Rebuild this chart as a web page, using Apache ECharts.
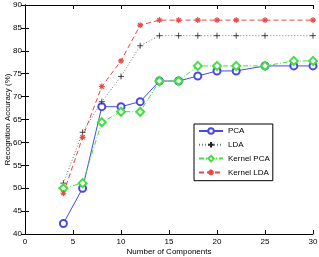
<!DOCTYPE html>
<html>
<head>
<meta charset="utf-8">
<script src="https://cdn.jsdelivr.net/npm/echarts@6/dist/echarts.min.js"></script>
<style>
  html, body { margin: 0; padding: 0; background: #fff; }
  #chart { width: 319px; height: 257px; }
</style>
</head>
<body>
<div id="chart"></div>
<script>
var components = [4, 6, 8, 10, 12, 14, 16, 18, 20, 22, 25, 28, 30];
var pca = [42.3, 50.0, 67.8, 67.8, 68.9, 73.4, 73.4, 74.5, 75.6, 75.6, 76.7, 76.7, 76.7];
var lda = [51.1, 62.2, 68.9, 74.4, 81.1, 83.3, 83.3, 83.3, 83.3, 83.3, 83.3, null, 83.3];
var kernelPca = [50.0, 51.1, 64.4, 66.7, 66.7, 73.4, 73.4, 76.7, 76.7, 76.7, 76.7, 77.8, 77.8];
var kernelLda = [48.9, 61.1, 72.2, 77.8, 85.6, 86.7, 86.7, 86.7, 86.7, 86.7, 86.7, null, 86.7];

function pairs(ys) {
  return components.map(function (x, i) { return [x, ys[i]]; });
}

var plusPath = 'path://M5,0L5,10M0,5L10,5';
var starPath = 'path://M5,0L5,10M0,5L10,5M1.5,1.5L8.5,8.5M1.5,8.5L8.5,1.5';

var dom = document.getElementById('chart');
var myChart = echarts.init(dom, null, { renderer: 'canvas' });

var font = 'Liberation Sans, Arial, sans-serif';
var axisLine = { show: true, lineStyle: { color: '#000', width: 1 } };
var tick = { show: true, inside: true, length: 4, lineStyle: { color: '#000' } };

var option = {
  animation: false,
  backgroundColor: '#fff',
  textStyle: { fontFamily: font },
  grid: { left: 25, right: 6, top: 5, bottom: 23, outerBoundsMode: 'none', containLabel: false },
  legend: {
    orient: 'vertical',
    left: 194,
    top: 124,
    backgroundColor: '#fff',
    borderColor: '#000',
    borderWidth: 1,
    borderRadius: 0,
    padding: [3, 3, 3, 4],
    itemWidth: 24,
    itemHeight: 7,
    itemGap: 4.5,
    textStyle: { fontSize: 8, color: '#000', fontFamily: font },
    data: ['PCA', 'LDA', 'Kernel PCA', 'Kernel LDA']
  },
  xAxis: [
    {
      type: 'value', min: 0, max: 30, interval: 5,
      name: 'Number of Components', nameLocation: 'middle', nameGap: 14,
      nameMoveOverlap: false,
      nameTextStyle: { fontSize: 8, color: '#000' },
      axisLine: axisLine, axisTick: tick,
      axisLabel: { fontSize: 8, color: '#000', margin: 4 },
      splitLine: { show: false }
    },
    {
      type: 'value', min: 0, max: 30, interval: 5, position: 'top',
      axisLine: axisLine, axisTick: tick, axisLabel: { show: false },
      splitLine: { show: false }
    }
  ],
  yAxis: [
    {
      type: 'value', min: 40, max: 90, interval: 5,
      name: 'Recognition Accuracy (%)', nameLocation: 'middle', nameGap: 13,
      nameMoveOverlap: false,
      nameTextStyle: { fontSize: 8, color: '#000' },
      axisLine: axisLine, axisTick: tick,
      axisLabel: { fontSize: 8, color: '#000', margin: 3 },
      splitLine: { show: false }
    },
    {
      type: 'value', min: 40, max: 90, interval: 5, position: 'right',
      axisLine: axisLine, axisTick: tick, axisLabel: { show: false },
      splitLine: { show: false }
    }
  ],
  series: [
    {
      name: 'PCA', type: 'line', data: pairs(pca),
      symbol: 'emptyCircle', symbolSize: 7,
      lineStyle: { color: '#4a4ae0', width: 1 },
      itemStyle: { color: '#4a4ae0', borderWidth: 0.8 }
    },
    {
      name: 'LDA', type: 'line', data: pairs(lda), connectNulls: true,
      symbol: plusPath, symbolSize: 6,
      lineStyle: { color: '#777', width: 1, type: [1, 2] },
      itemStyle: { color: 'none', borderColor: '#222', borderWidth: 0.8 }
    },
    {
      name: 'Kernel PCA', type: 'line', data: pairs(kernelPca),
      symbol: 'emptyDiamond', symbolSize: 8,
      lineStyle: { color: '#44dd44', width: 1, type: [5, 2, 1, 2] },
      itemStyle: { color: '#44dd44', borderWidth: 0.8 }
    },
    {
      name: 'Kernel LDA', type: 'line', data: pairs(kernelLda), connectNulls: true,
      symbol: starPath, symbolSize: 6,
      lineStyle: { color: '#e64a4a', width: 1, type: [5, 3] },
      itemStyle: { color: 'none', borderColor: '#e64a4a', borderWidth: 1.1 }
    }
  ]
};

if (option && typeof option === 'object') {
  myChart.setOption(option);
}
window.addEventListener('resize', myChart.resize);
</script>
</body>
</html>
